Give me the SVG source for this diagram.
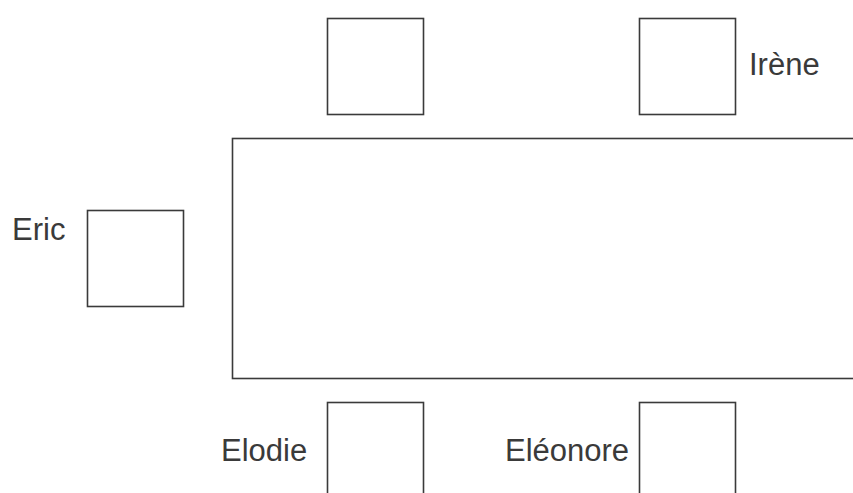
<svg xmlns="http://www.w3.org/2000/svg" width="853" height="493" viewBox="0 0 853 493">
<style>
.b{fill:#fff;stroke:#3a3a3a;stroke-width:1.6}
.t{font-family:"Liberation Sans",Arial,sans-serif;font-size:31px;fill:#3a3a3a}
</style>
<rect width="853" height="493" fill="#fff"/>
<g id="table"><rect class="b" x="232.5" y="138.5" width="640" height="240"/></g>
<g id="chair-top-left"><rect class="b" x="327.5" y="18.5" width="96" height="96"/></g>
<g id="chair-irene"><rect class="b" x="639.5" y="18.5" width="96" height="96"/><text class="t" x="749" y="75">Irène</text></g>
<g id="chair-eric"><rect class="b" x="87.5" y="210.5" width="96" height="96"/><text class="t" x="12" y="240">Eric</text></g>
<g id="chair-elodie"><rect class="b" x="327.5" y="402.5" width="96" height="120"/><text class="t" x="221" y="461">Elodie</text></g>
<g id="chair-eleonore"><rect class="b" x="639.5" y="402.5" width="96" height="120"/><text class="t" x="505" y="461">Eléonore</text></g>
<g id="connectors"/>
</svg>
